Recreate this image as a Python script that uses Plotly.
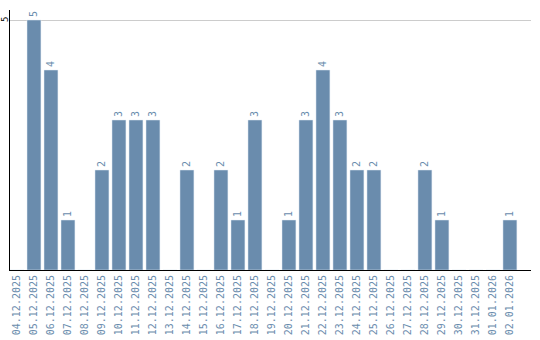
import plotly.graph_objects as go

dates = ["04.12.2025", "05.12.2025", "06.12.2025", "07.12.2025", "08.12.2025",
         "09.12.2025", "10.12.2025", "11.12.2025", "12.12.2025", "13.12.2025",
         "14.12.2025", "15.12.2025", "16.12.2025", "17.12.2025", "18.12.2025",
         "19.12.2025", "20.12.2025", "21.12.2025", "22.12.2025", "23.12.2025",
         "24.12.2025", "25.12.2025", "26.12.2025", "27.12.2025", "28.12.2025",
         "29.12.2025", "30.12.2025", "31.12.2025", "01.01.2026", "02.01.2026"]
counts = [0, 5, 4, 1, 0, 2, 3, 3, 3, 0, 2, 0, 2, 1, 3, 0, 1, 3, 4, 3,
          2, 2, 0, 0, 2, 1, 0, 0, 0, 1]
y_ticks = [5]

labels = [str(c) if c > 0 else "" for c in counts]

fig = go.Figure(go.Bar(
    x=dates, y=counts, text=labels, textposition="outside", textangle=-90,
    marker_color="#6a8cad", cliponaxis=False,
    textfont=dict(family="DejaVu Sans Mono", size=10, color="#6a8cad"),
))
fig.update_layout(
    width=540, height=340, margin=dict(l=10, r=9, t=10, b=70),
    plot_bgcolor="white", paper_bgcolor="white", bargap=0.18, showlegend=False,
    font=dict(family="DejaVu Sans Mono", size=10),
)
fig.update_xaxes(type="category", range=[-0.41, 30.24], tickangle=-90, showline=True,
                 linecolor="black", linewidth=1, ticks="", showgrid=False, automargin=False,
                 tickfont=dict(family="DejaVu Sans Mono", size=10, color="#6a8cad"))
fig.update_yaxes(range=[0, 5.2], tickvals=y_ticks, showticklabels=False,
                 showline=True, linecolor="black", linewidth=1, showgrid=True,
                 gridcolor="#cccccc", zeroline=False, automargin=False, ticks="")
for t in y_ticks:
    fig.add_annotation(x=-5 / 521, xref="paper", y=t, yref="y", text=str(t),
                       textangle=-90, showarrow=False, xanchor="center", yanchor="middle",
                       font=dict(family="DejaVu Sans Mono", size=9, color="black"))
fig.write_html("out.html")
